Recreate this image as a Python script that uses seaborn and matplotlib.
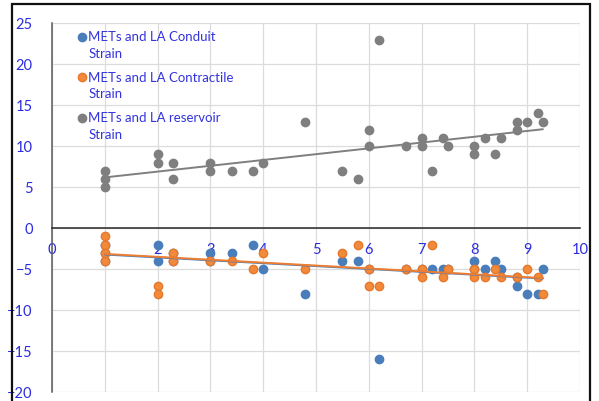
import numpy as np
import pandas as pd
import matplotlib.pyplot as plt
import seaborn as sns
from matplotlib.patches import Rectangle

# METs (x) and LA strain values
conduit_x = [1, 1, 1, 2, 2, 2.3, 2.3, 3, 3, 3.4, 3.8, 4, 4.8, 5.5, 5.8, 6, 6.2,
             6.7, 7, 7.2, 7.4, 7.5, 8, 8, 8.2, 8.4, 8.5, 8.8, 8.8, 9, 9.2, 9.3]
conduit_y = [-2, -3, -4, -2, -4, -3, -4, -3, -4, -3, -2, -5, -8, -4, -4, -5, -16,
             -5, -5, -5, -5, -5, -4, -5, -5, -4, -5, -6, -7, -8, -8, -5]

contractile_x = [1, 1, 1, 1, 2, 2, 2.3, 2.3, 3, 3.4, 3.8, 4, 4.8, 5.5, 5.8, 6, 6,
                 6.2, 6.7, 7, 7, 7.2, 7.4, 7.5, 8, 8, 8.2, 8.4, 8.5, 8.8, 9, 9.2, 9.3]
contractile_y = [-1, -2, -3, -4, -7, -8, -3, -4, -4, -4, -5, -3, -5, -3, -2, -5, -7,
                 -7, -5, -5, -6, -2, -6, -5, -5, -6, -6, -5, -6, -6, -5, -6, -8]

reservoir_x = [1, 1, 1, 2, 2, 2.3, 2.3, 3, 3, 3.4, 3.8, 4, 4.8, 5.5, 5.8, 6, 6,
               6.2, 6.7, 7, 7, 7.2, 7.4, 7.5, 8, 8, 8.2, 8.4, 8.5, 8.8, 8.8, 9, 9.2, 9.3]
reservoir_y = [7, 6, 5, 9, 8, 8, 6, 8, 7, 7, 7, 8, 13, 7, 6, 12, 10,
               23, 10, 11, 10, 7, 11, 10, 10, 9, 11, 9, 11, 12, 13, 13, 14, 13]

# linear trendlines as shown on the chart (slope, intercept)
trend_slope = [-0.352, -0.355, 0.708]
trend_intercept = [-2.86, -2.78, 5.49]

labels = ['METs and LA Conduit\nStrain', 'METs and LA Contractile\nStrain',
          'METs and LA reservoir\nStrain']
colors = ['#4a7ebb', '#f28a3c', '#7f7f7f']
edges = ['#4a7ebb', '#e6782c', '#7f7f7f']
line_colors = ['#4a7ebb', '#ed7d31', '#7f7f7f']

sns.set_style('white')
plt.rcParams['font.family'] = ['Lato', 'DejaVu Sans']

fig = plt.figure(figsize=(5.99, 4.01), dpi=100)
ax = fig.add_axes([0.087, 0.022, 0.881, 0.920])

series = [(conduit_x, conduit_y), (contractile_x, contractile_y),
          (reservoir_x, reservoir_y)]
for (xs, ys), lab, c, ec in zip(series, labels, colors, edges):
    df = pd.DataFrame({'x': xs, 'y': ys})
    sns.scatterplot(data=df, x='x', y='y', color=c, edgecolor=ec, linewidth=1,
                    s=36, label=lab, ax=ax, zorder=3)
for (xs, ys), m, b, c in zip(series, trend_slope, trend_intercept, line_colors):
    tx = np.array([min(xs), max(xs)])
    sns.lineplot(x=tx, y=m * tx + b, color=c, linewidth=1.4, ax=ax, zorder=4)

ax.set_xlim(0, 10)
ax.set_ylim(-20, 25)
ax.set_xticks(range(0, 11))
ax.set_yticks(range(-20, 26, 5))
ax.set_xlabel('')
ax.set_ylabel('')

ax.grid(True, color='#dcdcdc', linewidth=0.9, zorder=0)
ax.set_axisbelow(True)
for s in ['top', 'right']:
    ax.spines[s].set_visible(False)
ax.spines['bottom'].set_position(('data', 0))
ax.spines['bottom'].set_color('#262626')
ax.spines['bottom'].set_linewidth(1.1)
ax.spines['left'].set_color('#595959')
ax.spines['left'].set_linewidth(1.1)

tick_color = '#2b2be0'
ax.tick_params(axis='x', length=0, pad=11, labelsize=10.5, labelcolor=tick_color)
ax.tick_params(axis='y', length=0, pad=14, labelsize=10.5, labelcolor=tick_color)

leg = ax.legend(loc='upper left', bbox_to_anchor=(0.037, 0.992), frameon=False,
                fontsize=9.5, handletextpad=0.05, labelspacing=0.9,
                handlelength=0.8, borderaxespad=0, scatteryoffsets=[1.5])
for t in leg.get_texts():
    t.set_color('#3333dd')
    t.set_linespacing(1.45)

# outer chart border
fig.patches.append(Rectangle((12 / 599, -0.01), 578 / 599, 1 - 3.5 / 401 + 0.01,
                             transform=fig.transFigure, fill=False,
                             edgecolor='#111111', linewidth=1.6))

fig.savefig('out.png', dpi=100)
